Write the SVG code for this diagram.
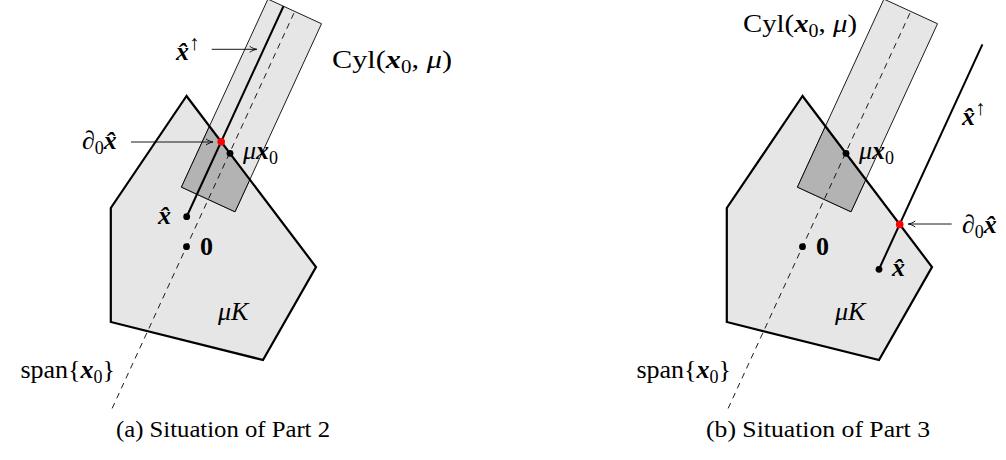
<svg xmlns="http://www.w3.org/2000/svg" width="1006" height="460" viewBox="0 0 1006 460">
<style>
.pent-fill{fill:#e6e6e6;stroke:none}
.pent-line{fill:none;stroke:#000;stroke-width:2.2;stroke-linejoin:miter}
.strip{fill:#e6e6e6;stroke:#000;stroke-width:0.8}
.dark{fill:#b3b3b3;stroke:#000;stroke-width:0.8}
.axis{fill:none;stroke:#000;stroke-width:0.8;stroke-dasharray:6 5}
.ray{fill:none;stroke:#000;stroke-width:2}
.arr{fill:none;stroke:#000;stroke-width:0.9;marker-end:url(#ah)}
.dot{fill:#000}
.red{fill:#ff0000}
text{font-family:"Liberation Serif","DejaVu Serif",serif;fill:#000}
.lbl{font-size:26px}
.cap{font-size:23px}
.bx{font-weight:bold;font-style:italic}
.it{font-style:italic}
.b{font-weight:bold}
.sub{font-size:18px}
.sup{font-size:21px}
</style>
<defs>
<marker id="ah" markerUnits="userSpaceOnUse" viewBox="-9 -5 10 10" refX="0" refY="0" markerWidth="10" markerHeight="10" orient="auto">
<path d="M -7 -3 C -5 -1.5 -2 -0.3 0 0 C -2 0.3 -5 1.5 -7 3" fill="none" stroke="#000" stroke-width="0.9"/>
</marker>
<clipPath id="clipPent" clipPathUnits="userSpaceOnUse">
<polygon points="186.5,96 110.8,208 110.8,322 263,360 316,267"/>
</clipPath>
</defs>

<g id="figure-a">
<g id="a-body">
<polygon class="pent-fill" points="186.5,96 110.8,208 110.8,322 263,360 316,267"/>
<g transform="translate(186.5,246.7) rotate(24.7)">
<rect class="strip" x="-29.5" y="-259" width="59" height="207"/>
</g>
<g clip-path="url(#clipPent)">
<g transform="translate(186.5,246.7) rotate(24.7)">
<rect class="dark" x="-29.5" y="-259" width="59" height="207"/>
</g>
</g>
<polygon class="pent-line" points="186.5,96 110.8,208 110.8,322 263,360 316,267"/>
<g transform="translate(186.5,246.7) rotate(24.7)">
<line class="axis" x1="0" y1="178" x2="0" y2="-259"/>
<line class="ray" x1="-12.4" y1="-27.3" x2="-12.4" y2="-259"/>
</g>
<circle class="dot" cx="186.5" cy="246.7" r="3.4"/>
<circle class="dot" cx="230" cy="153.3" r="3.4"/>
<circle class="dot" cx="186.7" cy="216.7" r="3.4"/>
<circle class="red" cx="221.2" cy="141.8" r="3.8"/>
</g>
<g id="a-connectors">
<line class="arr" x1="211.7" y1="49.3" x2="256.7" y2="49.3"/>
<line class="arr" x1="131" y1="142" x2="213" y2="142" stroke="#444"/>
</g>
<g id="a-labels">
<text class="lbl" x="332" y="68" textLength="120" lengthAdjust="spacingAndGlyphs">Cyl(<tspan class="bx">x</tspan><tspan class="sub" dy="5">0</tspan><tspan dy="-5">, </tspan><tspan class="it">μ</tspan>)</text>
<text class="lbl" x="176" y="60"><tspan class="bx">x&#x302;</tspan><tspan class="sup" dy="-10">↑</tspan></text>
<text class="lbl" x="82" y="149">∂<tspan class="sub" dy="5">0</tspan><tspan class="bx" dy="-5">x&#x302;</tspan></text>
<text class="lbl" x="243" y="159"><tspan class="it">μ</tspan><tspan class="bx">x</tspan><tspan class="sub" dy="5">0</tspan></text>
<text class="lbl" x="158" y="224"><tspan class="bx">x&#x302;</tspan></text>
<text class="lbl b" x="200" y="255">0</text>
<text class="lbl it" x="218" y="320">μK</text>
<text class="lbl" x="115" y="378" text-anchor="end">span{<tspan class="bx">x</tspan><tspan class="sub" dy="5">0</tspan><tspan dy="-5">}</tspan></text>
<text class="cap" x="223" y="437" text-anchor="middle" textLength="214" lengthAdjust="spacingAndGlyphs">(a) Situation of Part 2</text>
</g>
</g>

<g id="figure-b" transform="translate(616,0)">
<g id="b-body">
<polygon class="pent-fill" points="186.5,96 110.8,208 110.8,322 263,360 316,267"/>
<g transform="translate(186.5,246.7) rotate(24.7)">
<rect class="strip" x="-29.5" y="-259" width="59" height="207"/>
</g>
<g clip-path="url(#clipPent)">
<g transform="translate(186.5,246.7) rotate(24.7)">
<rect class="dark" x="-29.5" y="-259" width="59" height="207"/>
</g>
</g>
<polygon class="pent-line" points="186.5,96 110.8,208 110.8,322 263,360 316,267"/>
<g transform="translate(186.5,246.7) rotate(24.7)">
<line class="axis" x1="0" y1="178" x2="0" y2="-259"/>
<line class="ray" x1="78.9" y1="-11.5" x2="78.9" y2="-259"/>
</g>
<circle class="dot" cx="186.5" cy="246.7" r="3.4"/>
<circle class="dot" cx="230" cy="153.3" r="3.4"/>
<circle class="dot" cx="263" cy="269.3" r="3.4"/>
<circle class="red" cx="283.7" cy="224.4" r="3.8"/>
</g>
<g id="b-connectors">
<line class="arr" x1="335.7" y1="224" x2="292.3" y2="224"/>
</g>
<g id="b-labels">
<text class="lbl" x="127" y="32" textLength="114" lengthAdjust="spacingAndGlyphs">Cyl(<tspan class="bx">x</tspan><tspan class="sub" dy="5">0</tspan><tspan dy="-5">, </tspan><tspan class="it">μ</tspan>)</text>
<text class="lbl" x="346" y="125"><tspan class="bx">x&#x302;</tspan><tspan class="sup" dy="-10">↑</tspan></text>
<text class="lbl" x="346" y="233">∂<tspan class="sub" dy="5">0</tspan><tspan class="bx" dy="-5">x&#x302;</tspan></text>
<text class="lbl" x="243" y="159"><tspan class="it">μ</tspan><tspan class="bx">x</tspan><tspan class="sub" dy="5">0</tspan></text>
<text class="lbl" x="276" y="276"><tspan class="bx">x&#x302;</tspan></text>
<text class="lbl b" x="200" y="255">0</text>
<text class="lbl it" x="219" y="320">μK</text>
<text class="lbl" x="115" y="378" text-anchor="end">span{<tspan class="bx">x</tspan><tspan class="sub" dy="5">0</tspan><tspan dy="-5">}</tspan></text>
<text class="cap" x="202" y="437" text-anchor="middle" textLength="224" lengthAdjust="spacingAndGlyphs">(b) Situation of Part 3</text>
</g>
</g>
</svg>
